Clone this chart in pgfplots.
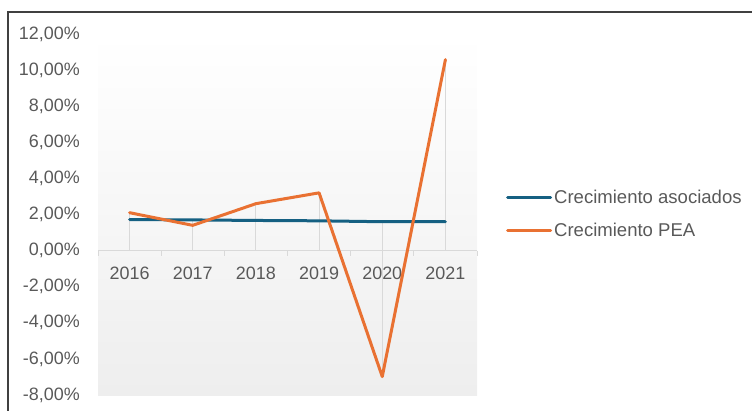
\documentclass[border=0pt]{standalone}
\usepackage{pgfplots}
\pgfplotsset{compat=1.18}
\usepackage{pgfplotstable}
\usepackage{fontspec}
\setmainfont{Liberation Sans}
\definecolor{asoc}{HTML}{156082}
\definecolor{pea}{HTML}{E97132}
\definecolor{txt}{HTML}{595959}
\definecolor{gridc}{HTML}{D9D9D9}
\definecolor{bgbot}{HTML}{EEEEEE}
\definecolor{frame}{HTML}{404040}

\pgfplotstableread{
x year asoc pea
0 2016 1.72 2.10
1 2017 1.70 1.40
2 2018 1.67 2.60
3 2019 1.65 3.20
4 2020 1.60 -6.98
5 2021 1.60 10.58
}\datatab

\begin{document}
\begin{tikzpicture}[x=1bp,y=1bp]
\path[use as bounding box] (0,0) rectangle (752,410);
\clip (0,0) rectangle (752,410);
\draw[frame, line width=1.2bp] (8,-20) -- (8,398) -- (790,398);
\begin{axis}[
  at={(98bp,15bp)}, anchor=south west,
  width=379bp, height=361bp, scale only axis,
  xmin=-0.5, xmax=5.5, ymin=-8, ymax=12,
  clip=false,
  axis background/.style={shade, top color=white, bottom color=bgbot, draw=none},
  axis x line=middle, axis y line=left,
  hide obscured x ticks=false, hide obscured y ticks=false,
  x axis line style={draw=gridc, line width=1bp, -},
  y axis line style={draw=none, -},
  xtick={0,1,2,3,4,5},
  xticklabels={2016,2017,2018,2019,2020,2021},
  minor xtick={-0.5,0.5,1.5,2.5,3.5,4.5,5.5},
  major x tick style={draw=none},
  minor x tick style={draw=gridc, line width=1bp},
  minor tick length=5bp,
  xtick align=outside,
  ytick={-8,-6,-4,-2,0,2,4,6,8,10,12},
  yticklabels={-8{,}00\%,-6{,}00\%,-4{,}00\%,-2{,}00\%,0{,}00\%,2{,}00\%,4{,}00\%,6{,}00\%,8{,}00\%,10{,}00\%,12{,}00\%},
  major y tick style={draw=none},
  major tick length=0pt,
  tick label style={font=\fontsize{18}{21}\selectfont, text=txt},
  yticklabel style={inner sep=0pt, xshift=-18bp},
  xticklabel style={inner sep=0pt, yshift=-16bp},
  legend style={draw=none, fill=none, at={(axis description cs:1.0765,0.501)}, anchor=west,
    inner sep=0pt, row sep=14bp, font=\fontsize{18.6}{21}\selectfont, text=txt},
  legend cell align=left,
  legend image code/.code={\draw[#1, line width=3bp, line cap=round] (0bp,0bp) -- (43bp,0bp);},
]
\addplot[ycomb, gridc, line width=1bp, forget plot] table[x=x, y=asoc] {\datatab};
\addplot[ycomb, gridc, line width=1bp, forget plot] table[x=x, y=pea] {\datatab};
\addplot[asoc, line width=3bp, line join=round, line cap=round] table[x=x, y=asoc] {\datatab};
\addlegendentry{Crecimiento asociados}
\addplot[pea, line width=3bp, line join=round, line cap=round] table[x=x, y=pea] {\datatab};
\addlegendentry{Crecimiento PEA}
\end{axis}
\end{tikzpicture}
\end{document}
